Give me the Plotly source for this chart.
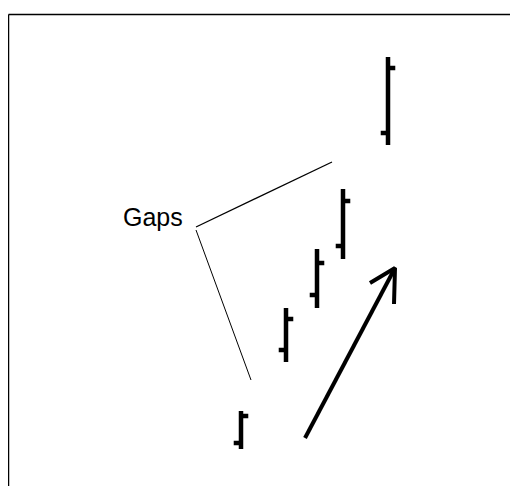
import plotly.graph_objects as go

# price bars (x position, open / high / low / close)
bar_x = [241, 286, 317, 343, 388]
bar_open = [43, 136, 191, 240, 353]
bar_high = [75, 178, 237, 297, 429]
bar_low = [37, 124, 178, 227, 341]
bar_close = [70, 167, 223, 285, 418]

# label with its two leader lines
label_text = "Gaps"
label_x = 185
label_y = 269
leader_x = [332, 196, 196, 251]
leader_y = [324, 259, 256, 106]

# trend arrow: shaft then head
arrow_x = [305, 395, None, 370, 395, 394]
arrow_y = [48, 218, None, 203, 218, 182]

fig = go.Figure()

fig.add_trace(go.Ohlc(
    x=bar_x, open=bar_open, high=bar_high, low=bar_low, close=bar_close,
    increasing=dict(line=dict(color="black", width=4.5)),
    decreasing=dict(line=dict(color="black", width=4.5)),
    tickwidth=0.28, showlegend=False, hoverinfo="skip",
))

fig.add_trace(go.Scatter(
    x=leader_x[:2], y=leader_y[:2], mode="lines",
    line=dict(color="black", width=1.3), showlegend=False, hoverinfo="skip",
))
fig.add_trace(go.Scatter(
    x=leader_x[2:], y=leader_y[2:], mode="lines",
    line=dict(color="black", width=1), showlegend=False, hoverinfo="skip",
))
fig.add_trace(go.Scatter(
    x=arrow_x, y=arrow_y, mode="lines",
    line=dict(color="black", width=4), showlegend=False, hoverinfo="skip",
))

fig.add_annotation(
    x=label_x, y=label_y, text=label_text, showarrow=False,
    xanchor="right", yanchor="middle",
    font=dict(family="Liberation Sans, Arial", size=25, color="black"),
)

# frame (left and top edges only, as in the scan)
fig.add_shape(type="line", x0=8.5, x1=8.5, y0=0, y1=471.5,
              line=dict(color="black", width=1.5))
fig.add_shape(type="line", x0=8.5, x1=518, y0=471.5, y1=471.5,
              line=dict(color="black", width=1.5))

# the page body adds an 8px margin, so the axes start at screen pixel 8
fig.update_layout(
    width=510, height=478,
    margin=dict(l=0, r=0, t=0, b=0),
    paper_bgcolor="white", plot_bgcolor="white",
    showlegend=False,
)
fig.update_xaxes(range=[8, 518], visible=False, rangeslider=dict(visible=False), fixedrange=True)
fig.update_yaxes(range=[0, 478], visible=False, fixedrange=True)

fig.write_html("out.html")
